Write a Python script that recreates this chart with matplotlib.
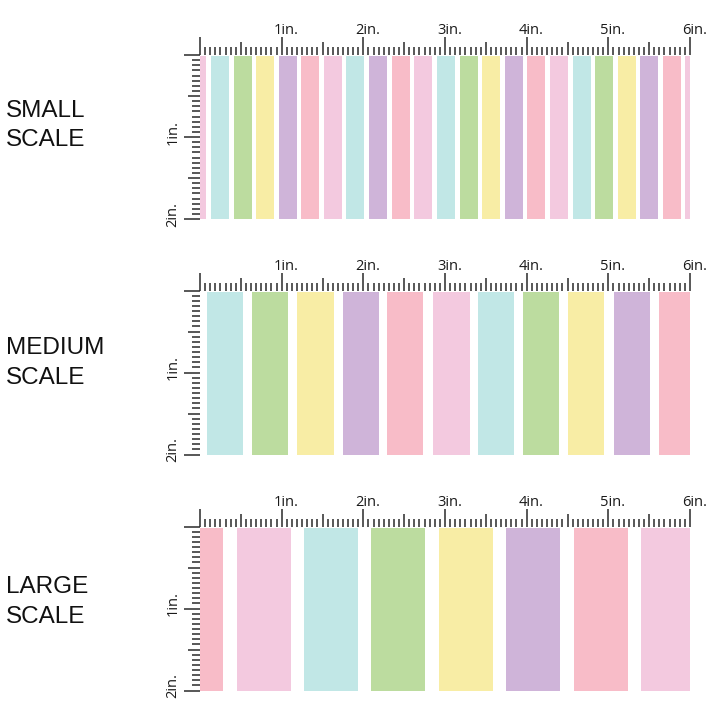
import matplotlib
matplotlib.use("Agg")
import matplotlib.pyplot as plt
import numpy as np

# stripe colours
TEAL = "#c1e7e6"
GREEN = "#bcdc9f"
YELLOW = "#f8eda5"
PURPLE = "#cfb4d9"
SALMON = "#f8bcc8"
LPINK = "#f3c9df"

# stripes, in inches from the ruler origin
small_starts = [-0.142, 0.135, 0.412, 0.685, 0.963, 1.236, 1.514, 1.787, 2.069, 2.346,
                2.619, 2.901, 3.179, 3.452, 3.729, 4.002, 4.284, 4.562, 4.835, 5.113,
                5.386, 5.667, 5.936]
small_colors = [LPINK, TEAL, GREEN, YELLOW, PURPLE, SALMON, LPINK, TEAL, PURPLE, SALMON,
                LPINK, TEAL, GREEN, YELLOW, PURPLE, SALMON, LPINK, TEAL, GREEN, YELLOW,
                PURPLE, SALMON, LPINK]
small_width = 0.22

medium_starts = [0.082, 0.636, 1.191, 1.750, 2.289, 2.856, 3.403, 3.953, 4.504, 5.067, 5.618]
medium_colors = [TEAL, GREEN, YELLOW, PURPLE, SALMON, LPINK, TEAL, GREEN, YELLOW, PURPLE, SALMON]
medium_width = 0.447

large_starts = [-0.383, 0.453, 1.269, 2.097, 2.925, 3.745, 4.578, 5.406]
large_colors = [SALMON, LPINK, TEAL, GREEN, YELLOW, PURPLE, SALMON, LPINK]
large_width = 0.661

panel_names = ["SMALL\nSCALE", "MEDIUM\nSCALE", "LARGE\nSCALE"]
x_labels = ["1in.", "2in.", "3in.", "4in.", "5in.", "6in."]
y_labels = ["1in.", "2in."]

W = 720
fig = plt.figure(figsize=(7.2, 7.2), dpi=100)

panels = [
    (small_starts, small_colors, small_width, 55, [116.7, 146.3]),
    (medium_starts, medium_colors, medium_width, 290.5, [354.3, 384.3]),
    (large_starts, large_colors, large_width, 526.5, [593.3, 623.3]),
]

TICK = "#2a2a2a"
PX = 1 / 82.0  # one pixel in inches of the ruler

for (starts, colors, width, top_px, base_px), name in zip(panels, panel_names):
    ax = fig.add_axes([200 / W, 1 - (top_px + 164) / W, 490 / W, 164 / W])
    ax.set_xlim(0, 6)
    ax.set_ylim(2, 0)
    ax.axis("off")

    ax.bar(starts, 2 - 1.3 * PX, width=width, bottom=1.3 * PX, align="edge",
           color=colors, linewidth=0)

    # top ruler, 1/16 inch ticks
    xt = np.arange(0, 97) / 16
    xlen = np.where(np.arange(97) % 16 == 0, 18, np.where(np.arange(97) % 8 == 0, 13, 8)) * PX
    ax.vlines(xt, 0, -xlen, color=TICK, lw=1.1, clip_on=False)

    # left ruler
    yt = np.arange(0, 33) / 16
    ylen = np.where(np.arange(33) % 16 == 0, 16, np.where(np.arange(33) % 8 == 0, 12, 8)) * PX
    ax.hlines(yt, 0, -ylen, color=TICK, lw=1.1, clip_on=False)

    for i, lab in enumerate(x_labels):
        ax.text(i + 1 + 4.5 * PX, -21 * PX, lab, ha="center", va="baseline",
                fontsize=10.5, family="Open Sans", color="#1a1a1a")
    for i, lab in enumerate(y_labels):
        ax.text(-27 * PX, i + 1 - 4.5 * PX, lab, ha="center", va="center", rotation=90,
                fontsize=10.5, family="Open Sans", color="#1a1a1a")

    for line, b in zip(name.split("\n"), base_px):
        fig.text(6 / W, 1 - b / W, line, ha="left", va="baseline", fontsize=17.5,
                 family="Liberation Sans", color="#111111")

fig.savefig("out.png", dpi=100, facecolor="white")
